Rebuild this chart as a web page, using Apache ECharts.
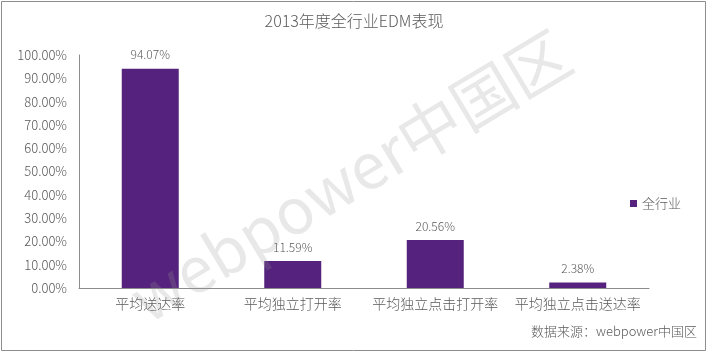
<!DOCTYPE html>
<html><head><meta charset="utf-8">
<script src="https://cdn.jsdelivr.net/npm/echarts@6/dist/echarts.min.js"></script>
<style>html,body{margin:0;padding:0;background:#fff}#c{width:708px;height:356px}</style>
</head><body><div id="c"></div>
<script>
const categories = ['平均送达率','平均独立打开率','平均独立点击打开率','平均独立点击送达率'];
const values = [94.07, 11.59, 20.56, 2.38];
const seriesName = '全行业';
const titleText = '2013年度全行业EDM表现';
const sourceText = '数据来源：webpower中国区';
const watermarkText = 'webpower中国区';

const FONT = '"Noto Sans CJK SC", "Noto Sans", sans-serif';
const GRAY = '#595959';
const chart = echarts.init(document.getElementById('c'), null, {renderer:'canvas'});
chart.setOption({
  animation:false,
  textStyle:{fontFamily:FONT},
  title:{text:titleText,left:'center',top:8,textStyle:{fontSize:16,fontWeight:300,color:GRAY,fontFamily:FONT}},
  legend:{data:[seriesName],right:22,top:192,orient:'vertical',icon:'rect',itemWidth:7,itemHeight:7,itemGap:4,
    textStyle:{fontSize:13,color:GRAY,fontWeight:300,fontFamily:FONT}},
  grid:{left:79,top:55,width:570,height:233,containLabel:false},
  xAxis:{type:'category',data:categories,
    axisLine:{lineStyle:{color:'#8c8c8c'}},axisTick:{show:false},
    axisLabel:{fontSize:14,color:GRAY,margin:9,fontWeight:300,interval:0}},
  yAxis:{type:'value',min:0,max:100,interval:10,
    axisLine:{show:true,lineStyle:{color:'#8c8c8c'}},axisTick:{show:false},splitLine:{show:false},
    axisLabel:{formatter:v=>v.toFixed(2)+'%',fontSize:13,color:GRAY,margin:12,fontWeight:300}},
  series:[{name:seriesName,type:'bar',data:values,barWidth:57,itemStyle:{color:'#55237D'},
    label:{show:true,position:'top',distance:8,formatter:p=>p.value.toFixed(2)+'%',fontSize:12,color:GRAY,fontWeight:300}}],
  graphic:[
    {type:'rect',shape:{x:1.5,y:1.5,width:704,height:349},style:{fill:'none',stroke:'#8c8c8c',lineWidth:1},z:0},
    {type:'text',x:697,y:331,style:{text:sourceText,fill:GRAY,fontSize:13,fontFamily:FONT,fontWeight:300,align:'right',verticalAlign:'middle'},z:10},
    {type:'text',x:350,y:176,rotation:0.54,style:{text:watermarkText,fill:'rgba(150,150,150,0.22)',fontSize:63,fontFamily:FONT,fontWeight:400,align:'center',verticalAlign:'middle'},z:20,silent:true}
  ]
});
</script></body></html>
